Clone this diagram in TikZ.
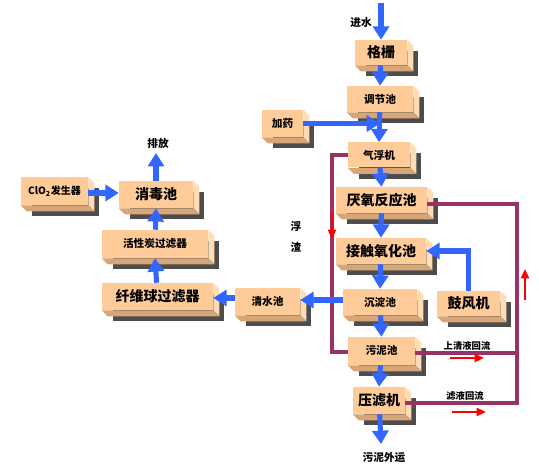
\documentclass[tikz,border=0pt]{standalone}
\usepackage{fontspec}
\newfontfamily\cjk{Noto Sans CJK SC}
\usetikzlibrary{arrows.meta}
\usetikzlibrary{backgrounds}

\definecolor{boxface}{RGB}{255,204,153}
\definecolor{boxside}{RGB}{255,220,180}
\definecolor{boxbottom}{RGB}{214,166,120}
\definecolor{boxshadow}{RGB}{77,77,77}
\definecolor{flowblue}{RGB}{51,102,255}
\definecolor{backpurple}{RGB}{153,51,102}

\tikzset{
  unit/.style={fill=boxface, inner sep=0pt, font=\cjk\bfseries\fontsize{10.5}{12}\selectfont},
  smallunit/.style={unit, font=\cjk\bfseries\fontsize{8}{10}\selectfont},
  flow/.style={flowblue, line width=3.8, -{Triangle[width=12pt,length=10pt]}},
  back/.style={backpurple, line width=3},
  hint/.style={red, line width=1.6, -{Triangle[width=6pt,length=7pt]}},
  note/.style={inner sep=0.75pt, font=\cjk\bfseries\fontsize{8}{9}\selectfont}
}

\begin{document}
\begin{tikzpicture}[x=0.75pt,y=0.75pt,yscale=-1,xscale=1]
\useasboundingbox (0,0) rectangle (539,473);

% Units
\node [unit, minimum width=39pt, minimum height=18.75pt] (gs) at (381,52.5) {格栅};
\node [smallunit, minimum width=49.5pt, minimum height=19.5pt] (tj) at (380,99) {调节池};
\node [smallunit, minimum width=30.75pt, minimum height=20.25pt] (jy) at (282.5,123.5) {加药};
\node [smallunit, minimum width=46.5pt, minimum height=18.75pt] (qf) at (379,155) {气浮机};
\node [unit, minimum width=68.25pt, minimum height=19.5pt] (yy) at (381.5,200) {厌氧反应池};
\node [unit, minimum width=67.5pt, minimum height=19.5pt] (jc) at (381,251) {接触氧化池};
\node [smallunit, minimum width=55.5pt, minimum height=19.5pt] (cd) at (380,302) {沉淀池};
\node [unit, minimum width=47.25pt, minimum height=18.75pt] (gf) at (468.5,303.5) {鼓风机};
\node [smallunit, minimum width=50.25pt, minimum height=21pt] (wn) at (381.5,351) {污泥池};
\node [unit, minimum width=39pt, minimum height=20.25pt] (yl) at (379,400.5) {压滤机};
\node [smallunit, minimum width=48.75pt, minimum height=20.25pt] (qs) at (267.5,301.5) {清水池};
\node [unit, minimum width=83.25pt, minimum height=20.25pt] (xw) at (157.5,296.5) {纤维球过滤器};
\node [smallunit, minimum width=79.5pt, minimum height=21pt] (hx) at (155,244) {活性炭过滤器};
\node [unit, minimum width=55.5pt, minimum height=20.25pt] (xd) at (156,194.5) {消毒池};
\node [smallunit, minimum width=50.25pt, minimum height=21pt, font=\cjk\bfseries\fontsize{7.5}{9}\selectfont] (clo) at (54.5,191) {ClO\textsubscript{2}发生器};

% 3D sides and shadows
\begin{pgfonlayer}{background}
\foreach \n in {gs,tj,jy,qf,yy,jc,cd,gf,wn,yl,qs,xw,hx,xd,clo}{
  \fill [boxshadow] ([shift={(11,11)}]\n.north west) rectangle ([shift={(11,11)}]\n.south east);
  \fill [boxside] (\n.north east) -- ([shift={(6,6)}]\n.north east) -- ([shift={(6,6)}]\n.south east) -- (\n.south east) -- cycle;
  \fill [boxbottom] (\n.south west) -- (\n.south east) -- ([shift={(6,6)}]\n.south east) -- ([shift={(6,6)}]\n.south west) -- cycle;
}
\end{pgfonlayer}

% Text Node
\node [note] (in) at (361,22) {进水};
\node [note] (out) at (384,458) {污泥外运};
\node [note] (pf) at (158,143) {排放};
\node [note] (fz1) at (296,226) {浮};
\node [note] (fz2) at (296,247) {渣};
\node [note, font=\cjk\bfseries\fontsize{7}{8}\selectfont] (sq) at (467,346) {上清液回流};
\node [note, font=\cjk\bfseries\fontsize{7}{8}\selectfont] (ly) at (465,396) {滤液回流};

\coordinate (inlet) at (381,3);
\coordinate (wout) at (381,444);
\coordinate (pout) at (156,153);

% Return lines
\draw [back] (qf.west) -- (332,155) -- (332,352) -- (wn.west |- 0,352);
\draw [back] (yy.east |- 0,204) -- (517,204) -- (517,403) -- (yl.east |- 0,403);
\draw [back] (wn.east |- 0,353) -- (517,353);

% Main flow
\draw [flow] (inlet) -- (inlet |- gs.north);
\draw [flow] (gs) -- (tj.north);
\draw [flow] (tj) -- (qf.north);
\draw [flow] (jy.east) -- (jy.east -| tj.center);
\draw [flow] (qf) -- (yy.north);
\draw [flow] (yy) -- (jc.north);
\draw [flow] (jc) -- (cd.north);
\draw [flow] (cd) -- (wn.north);
\draw [flow] (wn) -- (yl.north);
\draw [flow] (yl) -- (wout);
\draw [flow] (gf.north) |- (jc.east);
\draw [flow] (cd.west |- 0,300) -- (qs.east |- 0,300);
\draw [flow] (qs.west |- 0,298) -- (xw.east |- 0,298);
\draw [flow] (xw) -- (hx.south);
\draw [flow] (hx) -- (xd.south);
\draw [flow] (xd) -- (pout);
\draw [flow] (clo.east |- 0,193) -- (xd.west |- 0,193);

% Direction marks
\draw [hint] (332,212) -- (332,239);
\draw [hint] (525,300) -- (525,269);
\draw [hint] (450,358) -- (484,358);
\draw [hint] (452,412) -- (486,412);

\end{tikzpicture}
\end{document}
